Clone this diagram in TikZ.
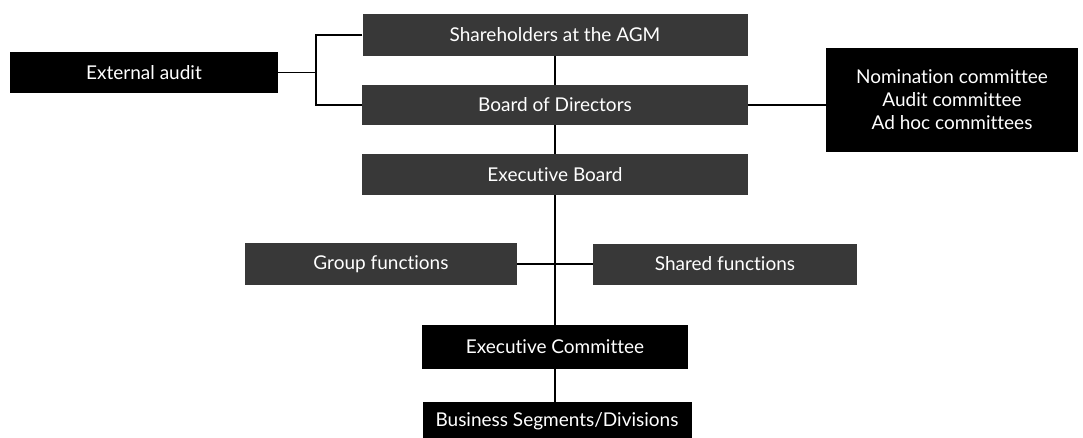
\documentclass[tikz,border=0pt]{standalone}
\usepackage{fontspec}
\setmainfont{Lato}[Ligatures=NoCommon]
\begin{document}
\begin{tikzpicture}[x=1pt,y=-1pt]
\tikzset{
  solidbox/.style={fill=black,text=white,inner sep=0pt,font=\fontsize{19}{23}\selectfont},
  grainbox/.style={fill=black!78,text=white,inner sep=0pt,font=\fontsize{19}{23}\selectfont},
  link/.style={draw=black,line width=1.3pt}
}
\useasboundingbox (0,0) rectangle (1083,438);
\node[solidbox,minimum width=268pt,minimum height=41pt] (ea) at (144,72.5) {External audit};
\node[grainbox,minimum width=385pt,minimum height=42pt] (sh) at (555,35) {Shareholders at the AGM};
\node[grainbox,minimum width=386pt,minimum height=40pt] (bd) at (555,105) {Board of Directors};
\node[solidbox,minimum width=252pt,minimum height=104pt,align=center] (nom) at (952,100) {Nomination committee\\Audit committee\\Ad hoc committees};
\node[grainbox,minimum width=386pt,minimum height=41pt] (eb) at (555,174.5) {Executive Board};
\node[grainbox,minimum width=272pt,minimum height=42pt] (gf) at (381,264) {Group functions};
\node[grainbox,minimum width=264pt,minimum height=41pt] (sf) at (725,264) {Shared functions};
\node[solidbox,minimum width=266pt,minimum height=44pt] (ec) at (555,347) {Executive Committee};
\node[solidbox,minimum width=269pt,minimum height=38pt] (bs) at (557,421) {Business Segments/Divisions};
\coordinate (j) at (316,72.5);
\draw[link] (ea.east) -- (j);
\draw[link] (sh.west) -| (j) |- (bd.west);
\draw[link] (sh.south) -- (bd.north);
\draw[link] (bd.south) -- (eb.north);
\draw[link] (bd.east) -- (bd.east -| nom.west);
\draw[link] (eb.south) -- (ec.north);
\draw[link] (gf.east) -- (sf.west);
\draw[link] (ec.south) -- (ec.south |- bs.north);
\end{tikzpicture}
\end{document}
